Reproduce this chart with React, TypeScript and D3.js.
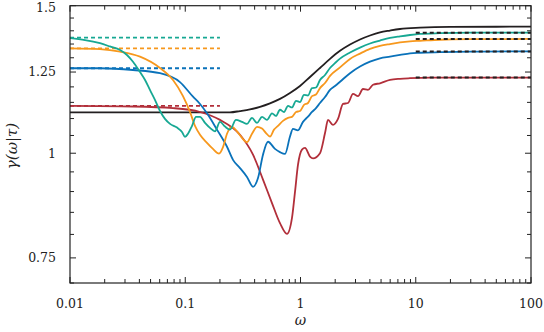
import React, { useRef, useEffect } from "react";
import * as d3 from "d3";

const width = 544;
const height = 332;
const margin = { top: 5.7, right: 13, bottom: 49, left: 70 };

const xTicks = [0.01, 0.1, 1, 10, 100];
const xTickLabels = ["0.01", "0.1", "1", "10", "100"];
const yTicks = [0.75, 1, 1.25, 1.5];
const yTickLabels = ["0.75", "1", "1.25", "1.5"];

// [omega, gamma]
const blackCurve = [
  [0.01, 1.119], [0.2445, 1.119], [0.2986, 1.123], [0.3645, 1.128], [0.4453, 1.136],
  [0.5436, 1.147], [0.6638, 1.161], [0.8108, 1.18], [0.99, 1.203], [1.209, 1.233],
  [1.476, 1.264], [1.803, 1.296], [2.202, 1.325], [2.689, 1.348], [3.283, 1.367],
  [4.009, 1.382], [4.894, 1.394], [5.978, 1.401], [7.3, 1.407], [10.89, 1.412],
  [19.83, 1.415], [100, 1.416],
];

const tealCurve = [
  [0.01, 1.372], [0.0135, 1.365], [0.0182, 1.353], [0.0222, 1.341], [0.0272, 1.328],
  [0.0312, 1.31], [0.0352, 1.286], [0.0405, 1.25], [0.0448, 1.223], [0.0494, 1.19],
  [0.0546, 1.158], [0.0604, 1.123], [0.0667, 1.099], [0.0738, 1.084], [0.0848, 1.073],
  [0.0937, 1.06], [0.0995, 1.046], [0.1056, 1.055], [0.1145, 1.078], [0.124, 1.105],
  [0.1343, 1.105], [0.1484, 1.087], [0.164, 1.072], [0.1812, 1.062], [0.2002, 1.09],
  [0.2213, 1.076], [0.2445, 1.067], [0.2756, 1.096], [0.3107, 1.09], [0.3434, 1.084],
  [0.3795, 1.102], [0.4195, 1.087], [0.4634, 1.105], [0.5121, 1.096], [0.5657, 1.116],
  [0.6127, 1.108], [0.6638, 1.127], [0.7192, 1.12], [0.7792, 1.139], [0.8436, 1.134],
  [0.9141, 1.155], [0.99, 1.151], [1.072, 1.174], [1.162, 1.172], [1.258, 1.196],
  [1.363, 1.198], [1.476, 1.223], [1.632, 1.24], [1.803, 1.264], [1.992, 1.281],
  [2.202, 1.297], [2.689, 1.319], [3.283, 1.337], [4.009, 1.352], [4.894, 1.363],
  [5.978, 1.373], [7.3, 1.379], [8.916, 1.384], [10.89, 1.388], [16.23, 1.391],
  [29.56, 1.393], [100, 1.393],
];

const orangeCurve = [
  [0.01, 1.334], [0.0182, 1.331], [0.0272, 1.322], [0.0405, 1.304], [0.0604, 1.264],
  [0.0783, 1.223], [0.0956, 1.17], [0.11, 1.12], [0.1215, 1.078], [0.1343, 1.052],
  [0.1544, 1.029], [0.174, 1.012], [0.1963, 0.999], [0.2126, 1.017], [0.2303, 1.055],
  [0.2544, 1.075], [0.2812, 1.062], [0.3107, 1.043], [0.3434, 1.031], [0.3795, 1.055],
  [0.4195, 1.075], [0.4634, 1.07], [0.502, 1.057], [0.5436, 1.047], [0.5889, 1.067],
  [0.6378, 1.078], [0.7049, 1.093], [0.7792, 1.102], [0.8436, 1.105], [0.9141, 1.12],
  [0.99, 1.123], [1.072, 1.142], [1.162, 1.148], [1.258, 1.17], [1.363, 1.175],
  [1.476, 1.196], [1.632, 1.213], [1.803, 1.237], [2.202, 1.266], [2.689, 1.296],
  [3.283, 1.315], [4.009, 1.332], [4.894, 1.343], [5.978, 1.35], [7.3, 1.356],
  [8.916, 1.36], [10.89, 1.362], [16.23, 1.366], [29.56, 1.368], [100, 1.369],
];

const blueCurve = [
  [0.01, 1.263], [0.0182, 1.263], [0.0352, 1.257], [0.0604, 1.246], [0.09, 1.216],
  [0.1168, 1.168], [0.1343, 1.145], [0.1544, 1.116], [0.1886, 1.067], [0.2303, 1.018],
  [0.2596, 0.982], [0.2986, 0.96], [0.3434, 0.937], [0.3872, 0.912], [0.4278, 0.934],
  [0.4727, 0.996], [0.5224, 1.032], [0.6006, 1.012], [0.6638, 1.003], [0.7337, 0.998],
  [0.8108, 1.047], [0.8607, 1.069], [0.9512, 1.065], [1.051, 1.09], [1.162, 1.106],
  [1.258, 1.12], [1.363, 1.132], [1.476, 1.148], [1.632, 1.167], [1.803, 1.19],
  [1.992, 1.203], [2.202, 1.217], [2.689, 1.246], [3.283, 1.269], [4.009, 1.286],
  [4.894, 1.298], [5.978, 1.304], [7.3, 1.31], [8.916, 1.316], [10.89, 1.318],
  [16.23, 1.32], [29.56, 1.322], [100, 1.323],
];

const redCurve = [
  [0.01, 1.139], [0.0352, 1.137], [0.0783, 1.132], [0.1343, 1.12], [0.2002, 1.096],
  [0.2986, 1.052], [0.3872, 0.996], [0.4727, 0.93], [0.5657, 0.872], [0.6638, 0.825],
  [0.7636, 0.801], [0.8436, 0.837], [0.8959, 0.899], [0.9512, 0.969], [1.03, 1.01],
  [1.094, 1.015], [1.209, 0.991], [1.284, 0.986], [1.476, 1.0], [1.632, 1.057],
  [1.733, 1.096], [1.914, 1.081], [2.115, 1.099], [2.338, 1.145], [2.583, 1.148],
  [2.855, 1.177], [3.155, 1.17], [3.485, 1.193], [3.852, 1.19], [4.257, 1.207],
  [4.894, 1.212], [5.978, 1.223], [7.3, 1.227], [8.916, 1.229], [13.29, 1.231],
  [29.56, 1.231], [100, 1.231],
];

// dashed reference levels
const lowRange = [0.01, 0.2];
const highRange = [10, 100];
const lowLevels = { teal: 1.374, orange: 1.334, blue: 1.263, red: 1.139 };
const highLevels = [1.393, 1.369, 1.323, 1.231];

const colors = {
  black: "#231f20",
  teal: "#17a893",
  orange: "#f7981d",
  blue: "#0a72ba",
  red: "#b22f3a",
};

export default function App() {
  const svgRef = useRef<SVGSVGElement>(null);

  useEffect(() => {
    const svg = d3.select(svgRef.current);
    svg.selectAll("*").remove();

    const x = d3
      .scaleLog()
      .domain([0.01, 100])
      .range([margin.left, width - margin.right]);
    const y = d3
      .scaleLog()
      .domain([0.7, 1.5])
      .range([height - margin.bottom, margin.top]);

    const x0 = margin.left;
    const x1 = width - margin.right;
    const y0 = height - margin.bottom;
    const y1 = margin.top;
    const axisColor = "#222";

    // minor ticks
    const xMinor: number[] = [];
    [0.01, 0.1, 1, 10].forEach((d) => {
      for (let k = 2; k <= 9; k++) xMinor.push(k * d);
    });
    const yMinor: number[] = [];
    for (let i = 14; i <= 30; i++) {
      const v = i * 0.05;
      if (!yTicks.some((t) => Math.abs(t - v) < 1e-6)) yMinor.push(v);
    }

    const ticks = svg.append("g").attr("stroke", axisColor).attr("stroke-width", 1);
    const addX = (vals: number[], len: number) => {
      vals.forEach((v) => {
        const px = x(v);
        ticks.append("line").attr("x1", px).attr("x2", px).attr("y1", y0).attr("y2", y0 - len);
        ticks.append("line").attr("x1", px).attr("x2", px).attr("y1", y1).attr("y2", y1 + len);
      });
    };
    const addY = (vals: number[], len: number) => {
      vals.forEach((v) => {
        const py = y(v);
        ticks.append("line").attr("x1", x0).attr("x2", x0 + len).attr("y1", py).attr("y2", py);
        ticks.append("line").attr("x1", x1).attr("x2", x1 - len).attr("y1", py).attr("y2", py);
      });
    };
    addX(xMinor, 4);
    addX(xTicks, 6);
    addY(yMinor, 4);
    addY(yTicks, 6);

    const line = d3
      .line<number[]>()
      .x((d) => x(d[0]))
      .y((d) => y(d[1]))
      .curve(d3.curveMonotoneX);

    const plot = svg.append("g").attr("fill", "none").attr("stroke-width", 1.8);

    // low-frequency dashed levels
    (["teal", "orange", "blue", "red"] as const).forEach((k) => {
      plot
        .append("line")
        .attr("x1", x(lowRange[0]))
        .attr("x2", x(lowRange[1]))
        .attr("y1", y(lowLevels[k]))
        .attr("y2", y(lowLevels[k]))
        .attr("stroke", colors[k])
        .attr("stroke-dasharray", "4,3");
    });

    const series: [number[][], string][] = [
      [blackCurve, colors.black],
      [redCurve, colors.red],
      [blueCurve, colors.blue],
      [orangeCurve, colors.orange],
      [tealCurve, colors.teal],
    ];
    series.forEach(([data, c]) => {
      plot.append("path").datum(data).attr("d", line).attr("stroke", c).attr("stroke-linejoin", "round");
    });

    // high-frequency dashed levels
    highLevels.forEach((v) => {
      plot
        .append("line")
        .attr("x1", x(highRange[0]))
        .attr("x2", x(highRange[1]))
        .attr("y1", y(v))
        .attr("y2", y(v))
        .attr("stroke", colors.black)
        .attr("stroke-width", 2)
        .attr("stroke-dasharray", "4,3");
    });

    // frame
    svg
      .append("rect")
      .attr("x", x0)
      .attr("y", y1)
      .attr("width", x1 - x0)
      .attr("height", y0 - y1)
      .attr("fill", "none")
      .attr("stroke", axisColor)
      .attr("stroke-width", 1.2);

    const font = "'DejaVu Serif', serif";
    const labels = svg.append("g").attr("font-family", font).attr("font-size", 12.5).attr("fill", "#222");
    xTicks.forEach((v, i) => {
      labels
        .append("text")
        .attr("x", x(v))
        .attr("y", y0 + 25)
        .attr("text-anchor", "middle")
        .text(xTickLabels[i]);
    });
    yTicks.forEach((v, i) => {
      labels
        .append("text")
        .attr("x", x0 - 14)
        .attr("y", Math.max(y(v), 8))
        .attr("dy", "0.35em")
        .attr("text-anchor", "end")
        .text(yTickLabels[i]);
    });

    svg
      .append("text")
      .attr("x", (x0 + x1) / 2)
      .attr("y", 325)
      .attr("text-anchor", "middle")
      .attr("font-family", font)
      .attr("font-style", "italic")
      .attr("font-size", 14)
      .attr("fill", "#222")
      .text("ω");

    svg
      .append("text")
      .attr("transform", `translate(17,146) rotate(-90)`)
      .attr("text-anchor", "middle")
      .attr("font-family", font)
      .attr("font-style", "italic")
      .attr("font-size", 15)
      .attr("fill", "#222")
      .text("γ(ω|τ)");
  }, []);

  return (
    <svg
      ref={svgRef}
      width={width}
      height={height}
      style={{ position: "absolute", left: 0, top: 0, background: "#fff" }}
    />
  );
}
